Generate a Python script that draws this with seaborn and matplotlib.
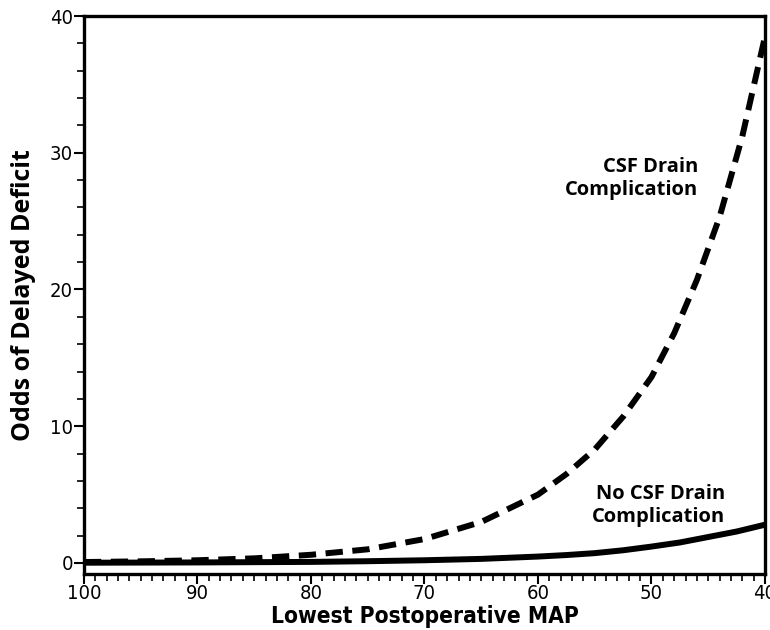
import numpy as np
import pandas as pd
import matplotlib
matplotlib.use("Agg")
import matplotlib.pyplot as plt
import seaborn as sns
from matplotlib.ticker import MultipleLocator

# values
map_csf = [100, 95, 90, 85, 80, 75, 70, 65, 60, 57.5, 55, 52.5, 50, 48, 46, 44, 42, 40]
odds_csf = [0.07, 0.12, 0.2, 0.34, 0.6, 1.0, 1.75, 3.0, 5.0, 6.5, 8.3, 10.7, 13.6, 16.8, 20.7, 25.3, 31.2, 38.5]

map_nocsf = [100, 95, 90, 85, 80, 75, 70, 65, 60, 57.5, 55, 52.5, 50, 47.5, 45, 42.5, 40]
odds_nocsf = [0.02, 0.03, 0.04, 0.06, 0.08, 0.13, 0.2, 0.3, 0.47, 0.58, 0.72, 0.93, 1.2, 1.5, 1.9, 2.3, 2.8]

label_csf = "CSF Drain\nComplication"
label_nocsf = "No CSF Drain\nComplication"

df_csf = pd.DataFrame({"MAP": map_csf, "Odds": odds_csf})
df_nocsf = pd.DataFrame({"MAP": map_nocsf, "Odds": odds_nocsf})

sns.set_style("ticks")
plt.rcParams["font.family"] = ["Open Sans", "DejaVu Sans"]
plt.rcParams["text.color"] = "black"
plt.rcParams["axes.labelcolor"] = "black"
plt.rcParams["xtick.color"] = "black"
plt.rcParams["ytick.color"] = "black"

fig = plt.figure(figsize=(7.7, 6.3), dpi=100)
ax = fig.add_axes([0.109, 0.089, 0.8845, 0.8856])

sns.lineplot(data=df_csf, x="MAP", y="Odds", ax=ax, color="black",
             linewidth=4.3, estimator=None, sort=False)
ax.lines[-1].set_dashes((2.9, 1.6))
sns.lineplot(data=df_nocsf, x="MAP", y="Odds", ax=ax, color="black",
             linewidth=4.3, estimator=None, sort=False)

ax.set_xlim(100, 40)
ax.set_ylim(-0.8, 40)
ax.xaxis.set_major_locator(MultipleLocator(10))
ax.xaxis.set_minor_locator(MultipleLocator(1))
ax.yaxis.set_major_locator(MultipleLocator(10))
ax.yaxis.set_minor_locator(MultipleLocator(2))

for s in ax.spines.values():
    s.set_visible(True)
    s.set_linewidth(2.4)
    s.set_color("black")

ax.tick_params(axis="both", which="major", direction="out", length=7, width=1.5, pad=1)
ax.tick_params(axis="x", which="major", pad=0)
ax.tick_params(axis="both", which="minor", direction="out", length=5, width=1.2)
for lab in ax.get_xticklabels() + ax.get_yticklabels():
    lab.set_family("DejaVu Sans")
    lab.set_stretch("condensed")
    lab.set_fontsize(14.5)

ax.set_xlabel("Lowest Postoperative MAP", fontsize=16.3, fontweight="bold",
              family="DejaVu Sans", fontstretch="condensed")
ax.xaxis.set_label_coords(0.5, -0.056)
ax.set_ylabel("Odds of Delayed Deficit", fontsize=18, fontweight="bold")
ax.yaxis.set_label_coords(-0.07, 0.5)

ax.text(45.9, 28.1, label_csf, ha="right", va="center", fontsize=14.5,
        fontweight="bold", linespacing=1.2)
ax.text(43.5, 4.2, label_nocsf, ha="right", va="center", fontsize=14.5,
        fontweight="bold", linespacing=1.2)

fig.savefig("out.png", dpi=100)
